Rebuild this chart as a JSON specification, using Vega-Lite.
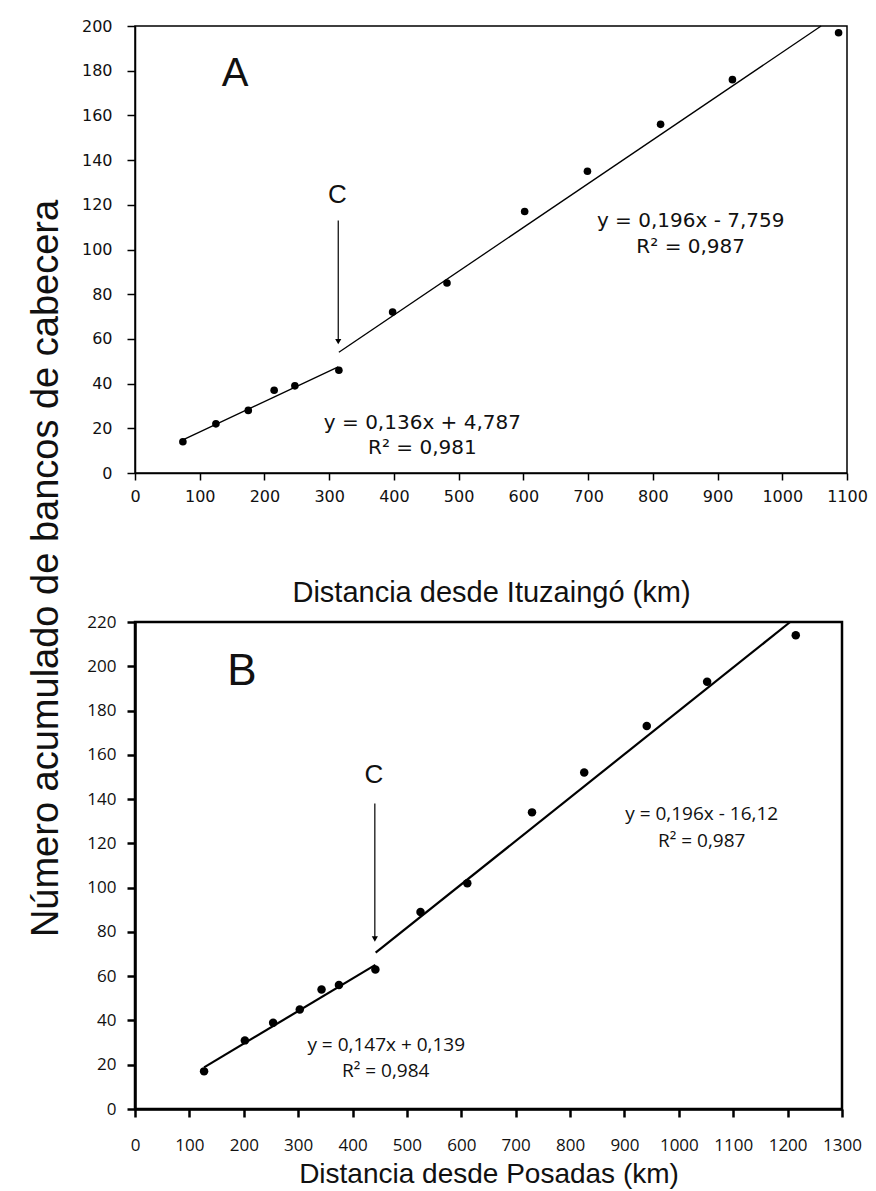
{
  "$schema": "https://vega.github.io/schema/vega-lite/v6.json",
  "background": "white",
  "padding": {"left": 26, "top": 17, "right": 0, "bottom": 0},
  "bounds": "flush",
  "spacing": 149,
  "datasets": {
    "ptsA": [
      {"x": 74, "y": 14}, {"x": 125, "y": 22}, {"x": 175, "y": 28}, {"x": 215, "y": 37},
      {"x": 247, "y": 39}, {"x": 315, "y": 46}, {"x": 398, "y": 72}, {"x": 482, "y": 85},
      {"x": 602, "y": 117}, {"x": 699, "y": 135}, {"x": 812, "y": 156}, {"x": 923, "y": 176},
      {"x": 1087, "y": 197}
    ],
    "linesA": [
      {"seg": "a1", "x": 74, "y": 14.85}, {"seg": "a1", "x": 314, "y": 47.5},
      {"seg": "a2", "x": 315, "y": 54.0}, {"seg": "a2", "x": 1060, "y": 200}
    ],
    "ptsB": [
      {"x": 127, "y": 17}, {"x": 202, "y": 31}, {"x": 254, "y": 39}, {"x": 303, "y": 45},
      {"x": 343, "y": 54}, {"x": 375, "y": 56}, {"x": 442, "y": 63}, {"x": 525, "y": 89},
      {"x": 611, "y": 102}, {"x": 730, "y": 134}, {"x": 826, "y": 152}, {"x": 941, "y": 173},
      {"x": 1052, "y": 193}, {"x": 1215, "y": 214}
    ],
    "linesB": [
      {"seg": "b1", "x": 127, "y": 18.8}, {"seg": "b1", "x": 442, "y": 65.1},
      {"seg": "b2", "x": 442.5, "y": 70.6}, {"seg": "b2", "x": 1204.7, "y": 220}
    ]
  },
  "vconcat": [
    {
      "width": 712,
      "height": 447,
      "view": {"stroke": "black", "strokeWidth": 1.5},
      "layer": [
        {
          "data": {"name": "ptsA"},
          "mark": {"type": "circle", "size": 58, "color": "black", "opacity": 1},
          "encoding": {
            "x": {
              "field": "x", "type": "quantitative",
              "scale": {"domain": [0, 1100], "nice": false, "zero": false},
              "axis": {
                "title": "Distancia desde Ituzaingó (km)",
                "values": [0, 100, 200, 300, 400, 500, 600, 700, 800, 900, 1000, 1100],
                "format": "d",
                "grid": false, "labelFlush": false, "labelOverlap": false,
                "domainColor": "black", "domainWidth": 1.5,
                "tickColor": "black", "tickWidth": 1.5, "tickSize": 7,
                "labelFont": "DejaVu Sans", "labelFontSize": 16, "labelColor": "#111", "labelPadding": 8,
                "titleFont": "Liberation Sans", "titleFontSize": 29, "titleFontWeight": "normal",
                "titleColor": "#111", "titleBaseline": "alphabetic", "titleY": 128
              }
            },
            "y": {
              "field": "y", "type": "quantitative",
              "scale": {"domain": [0, 200], "nice": false},
              "axis": {
                "title": "Número acumulado de bancos de cabecera",
                "values": [0, 20, 40, 60, 80, 100, 120, 140, 160, 180, 200],
                "format": "d",
                "grid": false, "labelOverlap": false,
                "domainColor": "black", "domainWidth": 1.5,
                "tickColor": "black", "tickWidth": 1.5, "tickSize": 8,
                "labelFont": "DejaVu Sans", "labelFontSize": 16, "labelColor": "#111", "labelPadding": 15,
                "titleFont": "Liberation Sans", "titleFontSize": 38, "titleFontWeight": "normal",
                "titleColor": "#111", "titleAngle": 270, "titleBaseline": "alphabetic",
                "titleAlign": "center", "titleX": -78, "titleY": 542
              }
            }
          }
        },
        {
          "data": {"name": "linesA"},
          "mark": {"type": "line", "color": "black", "strokeWidth": 1.3},
          "encoding": {
            "x": {"field": "x", "type": "quantitative"},
            "y": {"field": "y", "type": "quantitative"},
            "detail": {"field": "seg"}
          }
        },
        {
          "data": {"values": [{"x": 314, "top": 113, "tip": 59}]},
          "mark": {"type": "rule", "color": "black", "strokeWidth": 1.2},
          "encoding": {
            "x": {"field": "x", "type": "quantitative"},
            "y": {"field": "top", "type": "quantitative"},
            "y2": {"field": "tip"}
          }
        },
        {
          "data": {"values": [{"x": 314, "y": 58.8}]},
          "mark": {"type": "point", "shape": "triangle-down", "filled": true, "color": "black", "size": 38, "opacity": 1},
          "encoding": {
            "x": {"field": "x", "type": "quantitative"},
            "y": {"field": "y", "type": "quantitative"}
          }
        },
        {
          "data": {"values": [{"x": 154.5, "y": 178.5, "t": "A"}]},
          "mark": {"type": "text", "font": "Liberation Sans", "fontSize": 40, "color": "#111", "baseline": "middle", "align": "center"},
          "encoding": {
            "x": {"field": "x", "type": "quantitative"},
            "y": {"field": "y", "type": "quantitative"},
            "text": {"field": "t"}
          }
        },
        {
          "data": {"values": [{"x": 312.5, "y": 124.3, "t": "C"}]},
          "mark": {"type": "text", "font": "Liberation Sans", "fontSize": 26, "color": "#111", "baseline": "middle", "align": "center"},
          "encoding": {
            "x": {"field": "x", "type": "quantitative"},
            "y": {"field": "y", "type": "quantitative"},
            "text": {"field": "t"}
          }
        },
        {
          "data": {"values": [
            {"x": 444, "y": 22.3, "t": "y = 0,136x + 4,787"},
            {"x": 444, "y": 11.2, "t": "R² = 0,981"},
            {"x": 858.5, "y": 112.8, "t": "y = 0,196x - 7,759"},
            {"x": 858.5, "y": 101, "t": "R² = 0,987"}
          ]},
          "mark": {"type": "text", "font": "DejaVu Sans", "fontSize": 20, "color": "#111", "baseline": "middle", "align": "center"},
          "encoding": {
            "x": {"field": "x", "type": "quantitative"},
            "y": {"field": "y", "type": "quantitative"},
            "text": {"field": "t"}
          }
        }
      ]
    },
    {
      "width": 707,
      "height": 487,
      "view": {"stroke": "black", "strokeWidth": 2.5},
      "layer": [
        {
          "data": {"name": "ptsB"},
          "mark": {"type": "circle", "size": 72, "color": "black", "opacity": 1},
          "encoding": {
            "x": {
              "field": "x", "type": "quantitative",
              "scale": {"domain": [0, 1300], "nice": false, "zero": false},
              "axis": {
                "title": "Distancia desde Posadas (km)",
                "values": [0, 100, 200, 300, 400, 500, 600, 700, 800, 900, 1000, 1100, 1200, 1300],
                "format": "d",
                "grid": false, "labelFlush": false, "labelOverlap": false,
                "domainColor": "black", "domainWidth": 2.5,
                "tickColor": "black", "tickWidth": 2.5, "tickSize": 8,
                "labelFont": "Open Sans", "labelFontSize": 17, "labelColor": "#111", "labelPadding": 20,
                "titleFont": "Liberation Sans", "titleFontSize": 28, "titleFontWeight": "normal",
                "titleColor": "#111", "titleBaseline": "alphabetic", "titleY": 73
              }
            },
            "y": {
              "field": "y", "type": "quantitative",
              "scale": {"domain": [0, 220], "nice": false},
              "axis": {
                "title": null,
                "values": [0, 20, 40, 60, 80, 100, 120, 140, 160, 180, 200, 220],
                "format": "d",
                "grid": false, "labelOverlap": false,
                "domainColor": "black", "domainWidth": 2.5,
                "tickColor": "black", "tickWidth": 2.5, "tickSize": 8,
                "labelFont": "Open Sans", "labelFontSize": 17, "labelColor": "#111", "labelPadding": 11
              }
            }
          }
        },
        {
          "data": {"name": "linesB"},
          "mark": {"type": "line", "color": "black", "strokeWidth": 2.2},
          "encoding": {
            "x": {"field": "x", "type": "quantitative"},
            "y": {"field": "y", "type": "quantitative"},
            "detail": {"field": "seg"}
          }
        },
        {
          "data": {"values": [{"x": 441, "top": 138, "tip": 77}]},
          "mark": {"type": "rule", "color": "black", "strokeWidth": 1.2},
          "encoding": {
            "x": {"field": "x", "type": "quantitative"},
            "y": {"field": "top", "type": "quantitative"},
            "y2": {"field": "tip"}
          }
        },
        {
          "data": {"values": [{"x": 441, "y": 76.8}]},
          "mark": {"type": "point", "shape": "triangle-down", "filled": true, "color": "black", "size": 38, "opacity": 1},
          "encoding": {
            "x": {"field": "x", "type": "quantitative"},
            "y": {"field": "y", "type": "quantitative"}
          }
        },
        {
          "data": {"values": [{"x": 196.6, "y": 197.3, "t": "B"}]},
          "mark": {"type": "text", "font": "Liberation Sans", "fontSize": 44, "color": "#111", "baseline": "middle", "align": "center"},
          "encoding": {
            "x": {"field": "x", "type": "quantitative"},
            "y": {"field": "y", "type": "quantitative"},
            "text": {"field": "t"}
          }
        },
        {
          "data": {"values": [{"x": 439.2, "y": 150.8, "t": "C"}]},
          "mark": {"type": "text", "font": "Liberation Sans", "fontSize": 26, "color": "#111", "baseline": "middle", "align": "center"},
          "encoding": {
            "x": {"field": "x", "type": "quantitative"},
            "y": {"field": "y", "type": "quantitative"},
            "text": {"field": "t"}
          }
        },
        {
          "data": {"values": [
            {"x": 462, "y": 29.1, "t": "y = 0,147x + 0,139"},
            {"x": 461, "y": 17.1, "t": "R² = 0,984"},
            {"x": 1042, "y": 133.3, "t": "y = 0,196x - 16,12"},
            {"x": 1042, "y": 121, "t": "R² = 0,987"}
          ]},
          "mark": {"type": "text", "font": "Open Sans", "fontSize": 19, "color": "#111", "baseline": "middle", "align": "center"},
          "encoding": {
            "x": {"field": "x", "type": "quantitative"},
            "y": {"field": "y", "type": "quantitative"},
            "text": {"field": "t"}
          }
        }
      ]
    }
  ]
}
